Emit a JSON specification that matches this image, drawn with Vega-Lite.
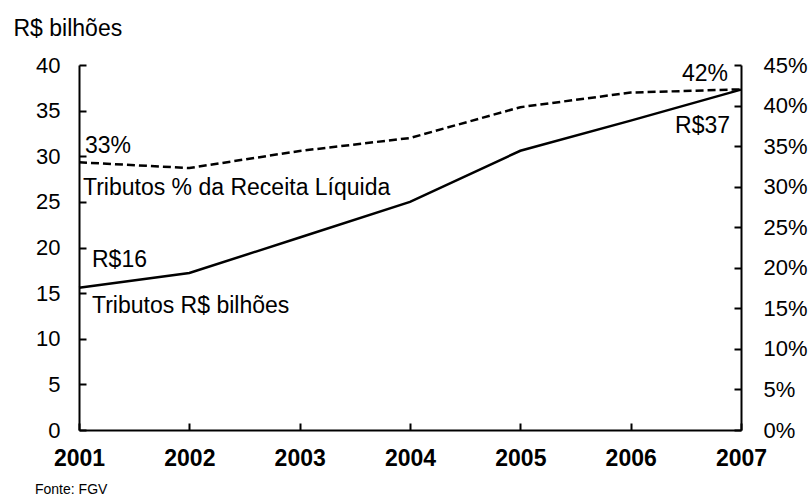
{
  "$schema": "https://vega.github.io/schema/vega-lite/v6.json",
  "width": 662,
  "height": 365,
  "autosize": {"type": "none"},
  "padding": {"left": 79, "top": 65, "right": 71, "bottom": 67},
  "background": "white",
  "config": {
    "view": {"stroke": null},
    "font": "Liberation Sans",
    "axis": {"grid": true, "gridColor": "#000", "gridWidth": 2, "gridDash": [7, 3000], "gridOpacity": 1, "domainColor": "#000", "domainWidth": 2, "ticks": false, "labelColor": "#000", "labelFont": "Liberation Sans", "labelFontSize": 22}
  },
  "title": {"text": "Fonte: FGV", "orient": "bottom", "anchor": "start", "frame": "group", "fontSize": 14, "fontWeight": "normal", "color": "#000", "dx": -44, "offset": 13, "font": "Liberation Sans"},
  "data": {"values": [
    {"year": 2001, "value": 15.6, "pct": 33.0},
    {"year": 2002, "value": 17.2, "pct": 32.3},
    {"year": 2003, "value": 21.1, "pct": 34.4},
    {"year": 2004, "value": 25.0, "pct": 36.0},
    {"year": 2005, "value": 30.6, "pct": 39.8},
    {"year": 2006, "value": 33.9, "pct": 41.6},
    {"year": 2007, "value": 37.3, "pct": 42.0}
  ]},
  "encoding": {
    "x": {"field": "year", "type": "quantitative", "scale": {"domain": [2001, 2007], "nice": false},
      "axis": {"title": null, "values": [2001, 2002, 2003, 2004, 2005, 2006, 2007], "format": "d", "labelFontWeight": "bold", "labelFontSize": 23, "labelPadding": 17, "labelFlush": false, "gridDash": [0, 358, 7, 3000]}}
  },
  "layer": [
    {
      "encoding": {
        "y": {"field": "value", "type": "quantitative", "scale": {"domain": [0, 40], "nice": false},
          "axis": {"orient": "left", "values": [0, 5, 10, 15, 20, 25, 30, 35, 40], "labelPadding": 19, "title": "R$ bilhões", "titleAngle": 0, "titleAlign": "left", "titleBaseline": "middle", "titleX": -66, "titleY": -37, "titleFontSize": 23, "titleFontWeight": "normal", "titleColor": "#000", "titleFont": "Liberation Sans"}}
      },
      "layer": [
        {"mark": {"type": "line", "color": "#000", "strokeWidth": 2.5}},
        {"transform": [{"filter": "datum.year == 2001"}, {"calculate": "'R$' + format(datum.value, '.0f')", "as": "lbl"}],
         "mark": {"type": "text", "align": "left", "baseline": "middle", "dx": 13, "dy": -28, "fontSize": 23, "color": "#000"},
         "encoding": {"text": {"field": "lbl"}}},
        {"transform": [{"filter": "datum.year == 2001"}],
         "mark": {"type": "text", "align": "left", "baseline": "middle", "dx": 13, "dy": 18, "fontSize": 23, "color": "#000", "text": "Tributos R$ bilhões"}},
        {"transform": [{"filter": "datum.year == 2007"}, {"calculate": "'R$' + format(datum.value, '.0f')", "as": "lbl"}],
         "mark": {"type": "text", "align": "right", "baseline": "middle", "dx": -11, "dy": 36, "fontSize": 23, "color": "#000"},
         "encoding": {"text": {"field": "lbl"}}}
      ]
    },
    {
      "encoding": {
        "y": {"field": "pct", "type": "quantitative", "scale": {"domain": [0, 45], "nice": false},
          "axis": {"orient": "right", "grid": true, "values": [0, 5, 10, 15, 20, 25, 30, 35, 40, 45], "labelExpr": "datum.value + '%'", "labelPadding": 22, "title": null, "gridDash": [7, 3000]}}
      },
      "layer": [
        {"mark": {"type": "line", "color": "#000", "strokeWidth": 2.5, "strokeDash": [8, 4]}},
        {"transform": [{"filter": "datum.year == 2001"}, {"calculate": "format(datum.pct, '.0f') + '%'", "as": "lbl"}],
         "mark": {"type": "text", "align": "left", "baseline": "middle", "dx": 6, "dy": -16, "fontSize": 23, "color": "#000"},
         "encoding": {"text": {"field": "lbl"}}},
        {"transform": [{"filter": "datum.year == 2001"}],
         "mark": {"type": "text", "align": "left", "baseline": "middle", "dx": 4, "dy": 26, "fontSize": 23, "color": "#000", "text": "Tributos % da Receita Líquida"}},
        {"transform": [{"filter": "datum.year == 2007"}, {"calculate": "format(datum.pct, '.0f') + '%'", "as": "lbl"}],
         "mark": {"type": "text", "align": "right", "baseline": "middle", "dx": -13, "dy": -15, "fontSize": 23, "color": "#000"},
         "encoding": {"text": {"field": "lbl"}}}
      ]
    }
  ],
  "resolve": {"scale": {"y": "independent"}}
}
